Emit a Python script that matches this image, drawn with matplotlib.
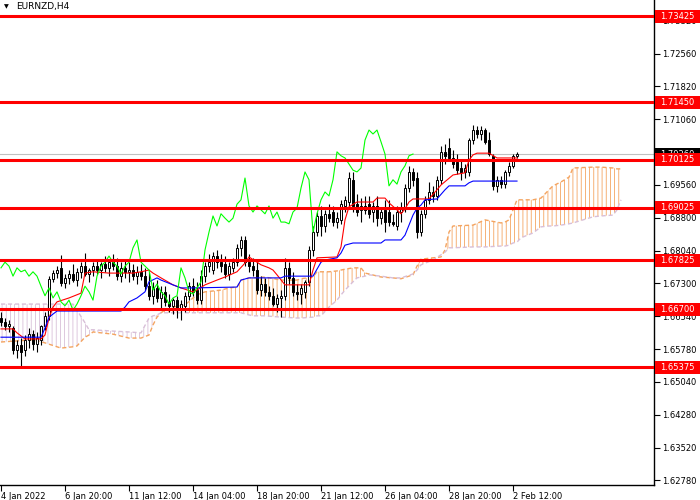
import numpy as np
import matplotlib
matplotlib.use('Agg')
import matplotlib.pyplot as plt
from matplotlib.transforms import blended_transform_factory
from matplotlib.patches import Rectangle

# EURNZD H4 candles, bar 0 = 4 Jan 2022 04:00
opens = [1.6650, 1.6641, 1.6632, 1.6627, 1.6577, 1.6588, 1.6577, 1.6600, 1.6613, 1.6590,
         1.6600, 1.6632, 1.6655, 1.6740, 1.6753, 1.6765, 1.6730, 1.6742, 1.6751, 1.6737,
         1.6756, 1.6769, 1.6751, 1.6760, 1.6769, 1.6760, 1.6774, 1.6765, 1.6778, 1.6769,
         1.6746, 1.6765, 1.6756, 1.6760, 1.6746, 1.6756, 1.6746, 1.6723, 1.6701, 1.6719,
         1.6696, 1.6710, 1.6687, 1.6678, 1.6691, 1.6668, 1.6678, 1.6701, 1.6723, 1.6714,
         1.6691, 1.6746, 1.6769, 1.6760, 1.6792, 1.6778, 1.6774, 1.6751, 1.6765, 1.6778,
         1.6811, 1.6829, 1.6778, 1.6769, 1.6760, 1.6714, 1.6728, 1.6710, 1.6701, 1.6682,
         1.6696, 1.6701, 1.6765, 1.6742, 1.6710, 1.6705, 1.6710, 1.6733, 1.6806, 1.6847,
         1.6884, 1.6861, 1.6889, 1.6893, 1.6870, 1.6875, 1.6907, 1.6916, 1.6967, 1.6911,
         1.6898, 1.6907, 1.6911, 1.6893, 1.6907, 1.6879, 1.6898, 1.6893, 1.6870, 1.6861,
         1.6893, 1.6902, 1.6948, 1.6985, 1.6971, 1.6847, 1.6889, 1.6921, 1.6939, 1.6930,
         1.6967, 1.7031, 1.7040, 1.7017, 1.7008, 1.6994, 1.6985, 1.6985, 1.7058, 1.7081,
         1.7072, 1.7081, 1.7058, 1.7022, 1.6953, 1.6967, 1.6957, 1.6985, 1.6999, 1.7022]
highs = [1.6664, 1.6650, 1.6645, 1.6632, 1.6600, 1.6604, 1.6611, 1.6627, 1.6623, 1.6618,
         1.6634, 1.6664, 1.6746, 1.6760, 1.6769, 1.6795, 1.6751, 1.6760, 1.6774, 1.6765,
         1.6778, 1.6799, 1.6765, 1.6778, 1.6783, 1.6778, 1.6792, 1.6783, 1.6797, 1.6788,
         1.6778, 1.6783, 1.6778, 1.6774, 1.6769, 1.6774, 1.6765, 1.6756, 1.6733, 1.6737,
         1.6723, 1.6723, 1.6705, 1.6696, 1.6701, 1.6691, 1.6710, 1.6733, 1.6742, 1.6733,
         1.6760, 1.6778, 1.6797, 1.6801, 1.6806, 1.6797, 1.6792, 1.6778, 1.6788, 1.6820,
         1.6838, 1.6838, 1.6797, 1.6788, 1.6778, 1.6746, 1.6742, 1.6723, 1.6719, 1.6705,
         1.6714, 1.6788, 1.6778, 1.6756, 1.6728, 1.6728, 1.6737, 1.6815, 1.6861, 1.6893,
         1.6907, 1.6898, 1.6911, 1.6907, 1.6893, 1.6921, 1.6930, 1.6985, 1.6985, 1.6934,
         1.6925, 1.6930, 1.6930, 1.6916, 1.6930, 1.6902, 1.6921, 1.6921, 1.6889, 1.6907,
         1.6916, 1.6957, 1.6999, 1.6994, 1.6985, 1.6898, 1.6930, 1.6962, 1.6953, 1.6976,
         1.7044, 1.7049, 1.7063, 1.7035, 1.7026, 1.7012, 1.7003, 1.7063, 1.7093, 1.7090,
         1.7090, 1.7086, 1.7077, 1.7026, 1.6976, 1.6976, 1.6989, 1.7008, 1.7026, 1.7031]
lows = [1.6632, 1.6623, 1.6618, 1.6567, 1.6558, 1.6538, 1.6563, 1.6581, 1.6577, 1.6572,
        1.6588, 1.6623, 1.6645, 1.6733, 1.6742, 1.6723, 1.6719, 1.6728, 1.6733, 1.6723,
        1.6742, 1.6746, 1.6733, 1.6746, 1.6751, 1.6742, 1.6756, 1.6746, 1.6760, 1.6737,
        1.6733, 1.6742, 1.6733, 1.6737, 1.6728, 1.6737, 1.6714, 1.6691, 1.6682, 1.6687,
        1.6673, 1.6678, 1.6664, 1.6659, 1.6650, 1.6645, 1.6664, 1.6691, 1.6701, 1.6682,
        1.6682, 1.6733, 1.6756, 1.6751, 1.6765, 1.6756, 1.6742, 1.6737, 1.6756, 1.6769,
        1.6792, 1.6769, 1.6756, 1.6746, 1.6705, 1.6701, 1.6701, 1.6691, 1.6678, 1.6664,
        1.6652, 1.6691, 1.6728, 1.6701, 1.6691, 1.6682, 1.6696, 1.6723, 1.6792, 1.6838,
        1.6838, 1.6847, 1.6870, 1.6861, 1.6856, 1.6866, 1.6893, 1.6907, 1.6893, 1.6884,
        1.6870, 1.6889, 1.6879, 1.6870, 1.6861, 1.6866, 1.6847, 1.6861, 1.6861, 1.6852,
        1.6870, 1.6893, 1.6939, 1.6953, 1.6834, 1.6838, 1.6879, 1.6911, 1.6916, 1.6921,
        1.6957, 1.7003, 1.7012, 1.6994, 1.6980, 1.6967, 1.6971, 1.6976, 1.7049, 1.7063,
        1.7058, 1.7049, 1.7022, 1.6944, 1.6939, 1.6948, 1.6948, 1.6976, 1.6994, 1.7017]
closes = [1.6641, 1.6632, 1.6636, 1.6577, 1.6588, 1.6572, 1.6600, 1.6613, 1.6590, 1.6604,
          1.6632, 1.6655, 1.6740, 1.6753, 1.6760, 1.6730, 1.6742, 1.6751, 1.6737, 1.6756,
          1.6769, 1.6751, 1.6760, 1.6769, 1.6760, 1.6774, 1.6765, 1.6778, 1.6769, 1.6746,
          1.6765, 1.6756, 1.6760, 1.6746, 1.6756, 1.6746, 1.6723, 1.6701, 1.6719, 1.6696,
          1.6710, 1.6687, 1.6678, 1.6691, 1.6668, 1.6682, 1.6701, 1.6723, 1.6710, 1.6691,
          1.6746, 1.6769, 1.6778, 1.6792, 1.6778, 1.6769, 1.6751, 1.6769, 1.6778, 1.6811,
          1.6829, 1.6778, 1.6769, 1.6760, 1.6714, 1.6728, 1.6710, 1.6701, 1.6682, 1.6696,
          1.6701, 1.6765, 1.6742, 1.6710, 1.6705, 1.6719, 1.6733, 1.6806, 1.6847, 1.6884,
          1.6861, 1.6889, 1.6879, 1.6870, 1.6879, 1.6911, 1.6921, 1.6971, 1.6907, 1.6893,
          1.6907, 1.6898, 1.6889, 1.6907, 1.6879, 1.6893, 1.6870, 1.6870, 1.6866, 1.6893,
          1.6902, 1.6948, 1.6985, 1.6967, 1.6847, 1.6889, 1.6921, 1.6939, 1.6930, 1.6967,
          1.7031, 1.7022, 1.7017, 1.7003, 1.6989, 1.6985, 1.6994, 1.7058, 1.7081, 1.7072,
          1.7081, 1.7054, 1.7026, 1.6953, 1.6967, 1.6957, 1.6985, 1.6999, 1.7022, 1.7026]

# Ichimoku lines (bar index -> price)
tenkan_bars = [0, 3, 4, 6, 10, 11, 12, 13, 14, 17, 20, 21, 23, 27, 33, 35, 37, 38, 40, 43,
               45, 48, 49, 51, 54, 56, 59, 61, 62, 64, 65, 67, 68, 69, 71, 77, 78, 79, 84, 85,
               86, 87, 89, 93, 94, 96, 97, 99, 100, 101, 102, 103, 107, 109, 110, 113, 116, 117,
               118, 119, 122, 124, 129]
tenkan = [1.6625, 1.6625, 1.6616, 1.6602, 1.6602, 1.6611, 1.6650, 1.6675, 1.6687, 1.6696,
          1.6707, 1.6753, 1.6756, 1.6753, 1.6753, 1.6756, 1.6760, 1.6753, 1.6742, 1.6726,
          1.6719, 1.6710, 1.6714, 1.6726, 1.6737, 1.6744, 1.6756, 1.6776, 1.6790, 1.6778,
          1.6772, 1.6765, 1.6760, 1.6749, 1.6726, 1.6726, 1.6760, 1.6788, 1.6790, 1.6813,
          1.6875, 1.6905, 1.6916, 1.6916, 1.6925, 1.6925, 1.6914, 1.6898, 1.6889, 1.6900,
          1.6916, 1.6923, 1.6923, 1.6944, 1.6955, 1.6978, 1.6983, 1.7012, 1.7024, 1.7028,
          1.7028, 1.7017, 1.7017]
kijun_bars = [0, 10, 11, 12, 14, 30, 31, 32, 34, 36, 37, 39, 40, 43, 45, 48, 59, 60, 62, 70,
              71, 78, 80, 81, 84, 85, 86, 88, 95, 96, 100, 101, 102, 103, 104, 105, 106, 109,
              111, 112, 116, 117, 118, 129]
kijun = [1.6606, 1.6606, 1.6627, 1.6652, 1.6666, 1.6666, 1.6675, 1.6687, 1.6696, 1.6710,
         1.6733, 1.6742, 1.6737, 1.6726, 1.6719, 1.6719, 1.6721, 1.6737, 1.6742, 1.6742,
         1.6746, 1.6746, 1.6778, 1.6783, 1.6788, 1.6799, 1.6817, 1.6822, 1.6822, 1.6829,
         1.6829, 1.6840, 1.6863, 1.6886, 1.6902, 1.6909, 1.6921, 1.6923, 1.6944, 1.6953,
         1.6953, 1.6960, 1.6964, 1.6964]
cloud_bars = [0, 8, 11, 15, 18, 19, 21, 22, 23, 28, 32, 35, 37, 38, 39, 40, 41, 43, 46, 48,
              49, 51, 55, 57, 59, 60, 62, 63, 66, 70, 74, 75, 78, 79, 80, 82, 84, 85, 86, 88,
              89, 90, 91, 92, 95, 98, 100, 103, 104, 105, 108, 110, 111, 112, 113, 118, 121, 125,
              126, 127, 128, 129, 130, 133, 135, 137, 138, 140, 142, 143, 148, 150, 153, 154, 155]
span_a = [1.6595, 1.6600, 1.6593, 1.6581, 1.6584, 1.6586, 1.6606, 1.6611, 1.6618, 1.6613,
          1.6604, 1.6604, 1.6611, 1.6634, 1.6652, 1.6662, 1.6668, 1.6675, 1.6680, 1.6696,
          1.6703, 1.6710, 1.6714, 1.6719, 1.6721, 1.6737, 1.6742, 1.6742, 1.6744, 1.6737,
          1.6737, 1.6740, 1.6744, 1.6756, 1.6756, 1.6756, 1.6758, 1.6760, 1.6762, 1.6765,
          1.6765, 1.6765, 1.6753, 1.6751, 1.6744, 1.6742, 1.6740, 1.6749, 1.6769, 1.6785,
          1.6788, 1.6790, 1.6806, 1.6847, 1.6861, 1.6863, 1.6875, 1.6868, 1.6870, 1.6875,
          1.6898, 1.6921, 1.6921, 1.6921, 1.6925, 1.6944, 1.6953, 1.6962, 1.6973, 1.6994,
          1.6996, 1.6996, 1.6994, 1.6992, 1.6992]
span_b = [1.6682, 1.6682, 1.6682, 1.6682, 1.6682, 1.6668, 1.6639, 1.6623, 1.6623, 1.6620,
          1.6618, 1.6616, 1.6650, 1.6655, 1.6657, 1.6662, 1.6662, 1.6662, 1.6662, 1.6662,
          1.6662, 1.6662, 1.6662, 1.6662, 1.6662, 1.6662, 1.6657, 1.6655, 1.6655, 1.6652,
          1.6650, 1.6650, 1.6652, 1.6655, 1.6655, 1.6675, 1.6691, 1.6703, 1.6714, 1.6733,
          1.6742, 1.6744, 1.6746, 1.6749, 1.6746, 1.6742, 1.6742, 1.6751, 1.6760, 1.6772,
          1.6783, 1.6795, 1.6801, 1.6811, 1.6811, 1.6813, 1.6813, 1.6815, 1.6815, 1.6817,
          1.6822, 1.6824, 1.6834, 1.6845, 1.6859, 1.6861, 1.6861, 1.6863, 1.6866, 1.6868,
          1.6882, 1.6884, 1.6886, 1.6898, 1.6921]
chikou_shift = 26

levels = [1.73425, 1.71450, 1.70125, 1.69025, 1.67825, 1.66700, 1.65375]
price_ticks = [1.62780, 1.63520, 1.64280, 1.65040, 1.65780, 1.66540, 1.67300, 1.68040,
               1.68800, 1.69560, 1.70300, 1.71060, 1.71820, 1.72560, 1.73320]
date_ticks = [0, 16, 32, 48, 64, 80, 96, 112, 128]
date_labels = ['4 Jan 2022', '6 Jan 20:00', '11 Jan 12:00', '14 Jan 04:00', '18 Jan 20:00',
               '21 Jan 12:00', '26 Jan 04:00', '28 Jan 20:00', '2 Feb 12:00']

ORANGE = '#F4A460'
THISTLE = '#D8BFD8'

fig = plt.figure(figsize=(7, 5), dpi=100)
ax = fig.add_axes([0, 15 / 500, 654 / 700, 485 / 500])
ymin, ymax = 1.62671, 1.73792
ax.set_xlim(-0.25, 163.25)
ax.set_ylim(ymin, ymax)

# cloud
plt.rcParams['hatch.linewidth'] = 0.6
ca = np.array(span_a)
cb = np.array(span_b)
ax.fill_between(cloud_bars, ca, cb, where=ca >= cb, interpolate=True, facecolor='none',
                edgecolor=ORANGE, hatch='||||', linewidth=0, zorder=1)
ax.fill_between(cloud_bars, ca, cb, where=ca <= cb, interpolate=True, facecolor='none',
                edgecolor=THISTLE, hatch='||||', linewidth=0, zorder=1)
ax.plot(cloud_bars, span_a, color=ORANGE, lw=1, ls=(0, (3, 2)), zorder=1.5)
ax.plot(cloud_bars, span_b, color=THISTLE, lw=1, ls=(0, (3, 2)), zorder=1.5)

# current price line
ax.axhline(closes[-1], color='#C0C0C0', lw=0.8, zorder=2)

# candles
x = np.arange(len(opens))
o = np.array(opens)
c = np.array(closes)
up = c >= o
ax.vlines(x, lows, highs, color='black', lw=0.8, zorder=3)
ax.bar(x[up], (c - o)[up], bottom=o[up], width=0.7, color='white', edgecolor='black', lw=0.7, zorder=3.1)
ax.bar(x[~up], (c - o)[~up], bottom=o[~up], width=0.7, color='black', edgecolor='black', lw=0.7, zorder=3.1)

# tenkan / kijun / chikou
ax.plot(tenkan_bars, tenkan, color='red', lw=0.8, zorder=4)
ax.plot(kijun_bars, kijun, color='blue', lw=0.8, zorder=4)
ax.plot(x[:-chikou_shift], c[chikou_shift:], color='#00FF00', lw=0.8, zorder=4)

# horizontal levels
for lv in levels:
    ax.axhline(lv, color='red', lw=2.2, zorder=5)

# axes look
for s in ['top', 'left']:
    ax.spines[s].set_visible(False)
for s in ['right', 'bottom']:
    ax.spines[s].set_linewidth(1)
ax.yaxis.tick_right()
ax.set_yticks(price_ticks)
ax.set_yticklabels([f'{p:.5f}' for p in price_ticks])
ax.tick_params(axis='y', direction='out', length=4, width=0.8, pad=2, labelsize=6)
ax.set_xticks(date_ticks)
ax.set_xticklabels(date_labels, ha='left')
ax.tick_params(axis='x', direction='out', length=4, width=0.8, pad=1, labelsize=6)

# price labels on the scale
tr = blended_transform_factory(fig.transFigure, ax.transData)
box_h = 13 * (ymax - ymin) / 485
fig.add_artist(Rectangle((655 / 700, closes[-1] - box_h / 2), 45 / 700, box_h,
                         transform=tr, facecolor='black', edgecolor='none', zorder=3))
fig.text(677 / 700, closes[-1], f'{closes[-1]:.5f}', transform=tr, color='white',
         ha='center', va='center', fontsize=6, zorder=3.5)
for lv in levels:
    fig.add_artist(Rectangle((655 / 700, lv - box_h / 2), 45 / 700, box_h,
                             transform=tr, facecolor='red', edgecolor='none', zorder=4))
    fig.text(677 / 700, lv, f'{lv:.5f}', transform=tr, color='white',
             ha='center', va='center', fontsize=6, zorder=4.5)

# symbol caption
fig.text(16 / 700, 1 - 7 / 500, 'EURNZD,H4', fontsize=6.5, ha='left', va='center')
fig.text(6 / 700, 1 - 7 / 500, '▼', fontsize=4.5, ha='center', va='center')

fig.savefig('out.png', dpi=100)
